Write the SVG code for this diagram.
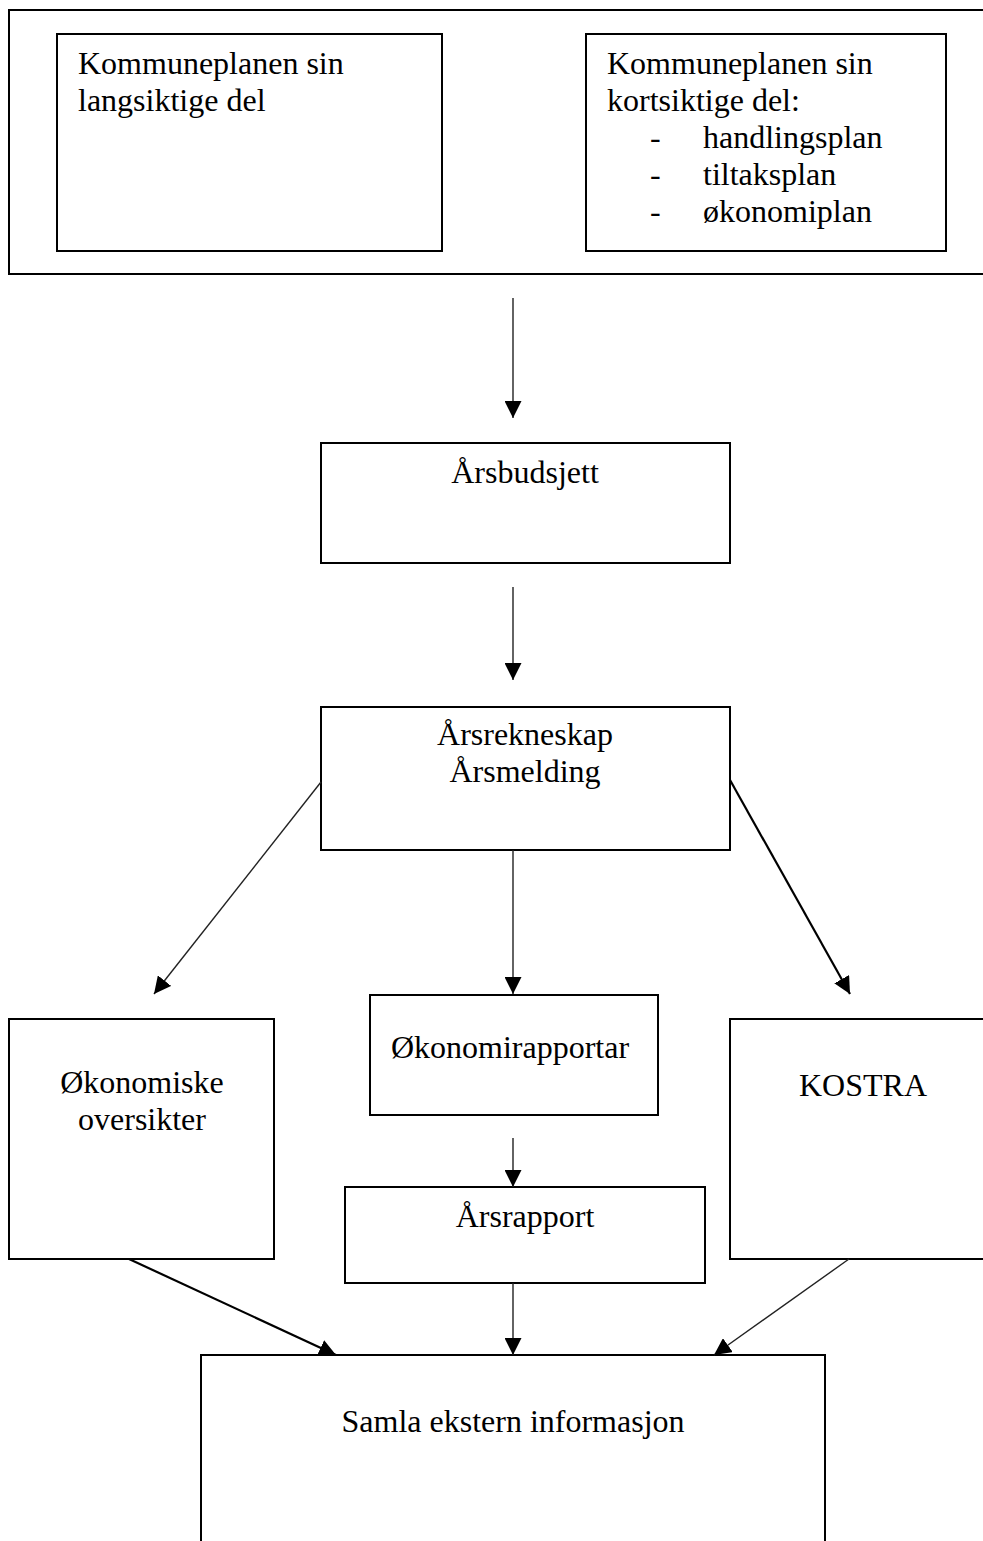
<svg xmlns="http://www.w3.org/2000/svg" width="983" height="1541" viewBox="0 0 983 1541">
<style>
.box{fill:#fff;stroke:#000;stroke-width:2}
.t{font-family:"Liberation Serif","Times New Roman",serif;font-size:32px;fill:#000}
.c{text-anchor:middle}
.ln{stroke:#222;stroke-width:1.4;fill:none}
.th{stroke:#000;stroke-width:2.2;fill:none}
</style>
<defs>
<marker id="ah" markerUnits="userSpaceOnUse" markerWidth="17" markerHeight="17" refX="16" refY="8" orient="auto" viewBox="0 0 16 16">
<path d="M0,0 L16,8 L0,16 z" fill="#000"/>
</marker>
</defs>
<g id="plan">
<rect class="box" x="9" y="10" width="980" height="264"/>
<g id="langsiktig">
<rect class="box" x="57" y="34" width="385" height="217"/>
<text class="t" x="78" y="74">Kommuneplanen sin</text>
<text class="t" x="78" y="111">langsiktige del</text>
</g>
<g id="kortsiktig">
<rect class="box" x="586" y="34" width="360" height="217"/>
<text class="t" x="607" y="74">Kommuneplanen sin</text>
<text class="t" x="607" y="111">kortsiktige del:</text>
<text class="t" x="650" y="148">-</text>
<text class="t" x="703" y="148">handlingsplan</text>
<text class="t" x="650" y="185">-</text>
<text class="t" x="703" y="185">tiltaksplan</text>
<text class="t" x="650" y="222">-</text>
<text class="t" x="703" y="222">økonomiplan</text>
</g>
</g>
<g id="arsbudsjett">
<rect class="box" x="321" y="443" width="409" height="120"/>
<text class="t c" x="525" y="483">Årsbudsjett</text>
</g>
<g id="arsrekneskap">
<rect class="box" x="321" y="707" width="409" height="143"/>
<text class="t c" x="525" y="745">Årsrekneskap</text>
<text class="t c" x="525" y="782">Årsmelding</text>
</g>
<g id="okonomiske">
<rect class="box" x="9" y="1019" width="265" height="240"/>
<text class="t c" x="142" y="1093">Økonomiske</text>
<text class="t c" x="142" y="1130">oversikter</text>
</g>
<g id="okonomirapportar">
<rect class="box" x="370" y="995" width="288" height="120"/>
<text class="t c" x="510" y="1058">Økonomirapportar</text>
</g>
<g id="kostra">
<rect class="box" x="730" y="1019" width="270" height="240"/>
<text class="t c" x="863" y="1096">KOSTRA</text>
</g>
<g id="arsrapport">
<rect class="box" x="345" y="1187" width="360" height="96"/>
<text class="t c" x="525" y="1227">Årsrapport</text>
</g>
<g id="samla">
<rect class="box" x="201" y="1355" width="624" height="200"/>
<text class="t c" x="513" y="1432">Samla ekstern informasjon</text>
</g>
<g id="connectors">
<line class="ln" x1="513" y1="298" x2="513" y2="418" marker-end="url(#ah)"/>
<line class="ln" x1="513" y1="587" x2="513" y2="680" marker-end="url(#ah)"/>
<line class="ln" x1="513" y1="850" x2="513" y2="994" marker-end="url(#ah)"/>
<line class="ln" x1="321" y1="782" x2="154" y2="994" marker-end="url(#ah)"/>
<line class="th" x1="730" y1="780" x2="850" y2="994" marker-end="url(#ah)"/>
<line class="ln" x1="513" y1="1138" x2="513" y2="1187" marker-end="url(#ah)"/>
<line class="ln" x1="513" y1="1283" x2="513" y2="1355" marker-end="url(#ah)"/>
<line class="th" x1="129" y1="1259" x2="336" y2="1355" marker-end="url(#ah)"/>
<line class="ln" x1="849" y1="1259" x2="714" y2="1355" marker-end="url(#ah)"/>
</g>
</svg>
